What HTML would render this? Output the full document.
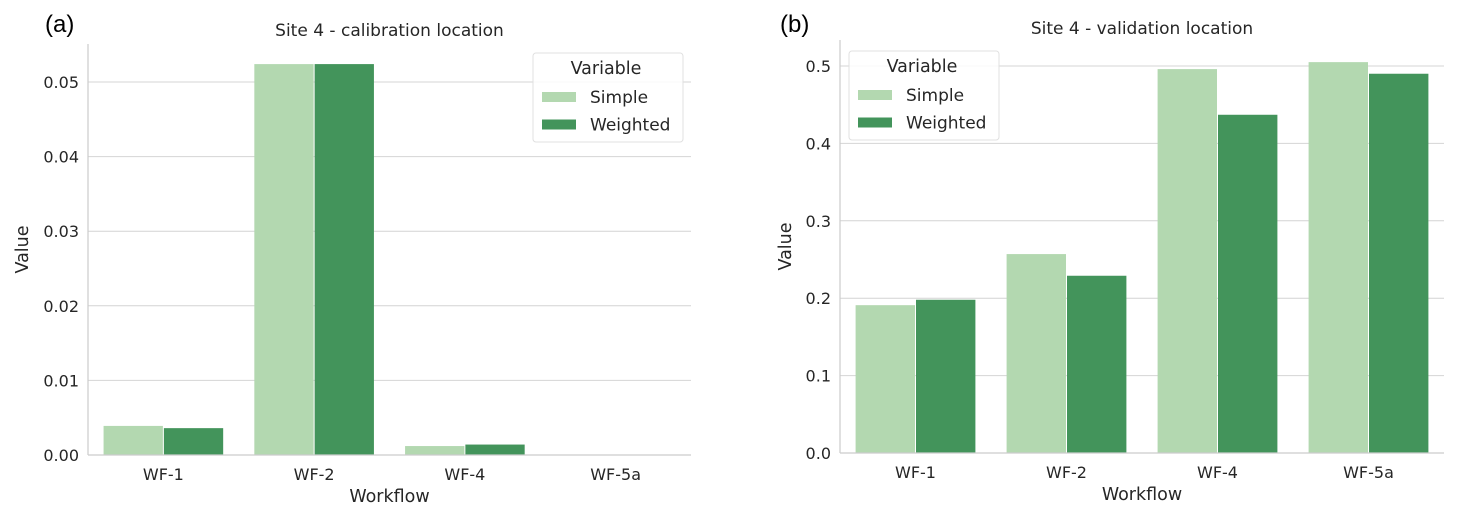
<!DOCTYPE html>
<html><head><meta charset="utf-8"><style>
body{margin:0;background:#fff;}
svg{display:block;font-family:"DejaVu Sans","Liberation Sans",sans-serif;fill:#262626;}
</style></head><body>
<svg id="fig" width="1458" height="518" viewBox="0 0 1458 518"></svg>
<script>
const categories=["WF-1","WF-2","WF-4","WF-5a"];
const seriesNames=["Simple","Weighted"];
const calSimple=[0.0039,0.0524,0.0012,0.0];
const calWeighted=[0.0036,0.0524,0.0014,0.0];
const valSimple=[0.191,0.257,0.496,0.505];
const valWeighted=[0.198,0.229,0.437,0.490];
const calTicks=[0,0.01,0.02,0.03,0.04,0.05];
const calTickLabels=["0.00","0.01","0.02","0.03","0.04","0.05"];
const valTicks=[0,0.1,0.2,0.3,0.4,0.5];
const valTickLabels=["0.0","0.1","0.2","0.3","0.4","0.5"];
const colors=["#b3d8b0","#43945b"];
const NS="http://www.w3.org/2000/svg";
const svg=document.getElementById('fig');
function mk(tag,attrs,parent,text){const e=document.createElementNS(NS,tag);for(const k in attrs)e.setAttribute(k,attrs[k]);if(text!==undefined)e.textContent=text;(parent||svg).appendChild(e);return e;}
function panel(cfg){
  const g=mk('g',{});
  
  
  const y=v=>cfg.y0-(v/cfg.vmax)*(cfg.y0-cfg.ytop);
  const bw=(cfg.x1-cfg.x0)/categories.length;
  const xc=i=>cfg.x0+bw*(i+0.5);
  cfg.ticks.forEach((t,i)=>{
    if(t>0){const gl=mk('line',{x1:cfg.x0,x2:cfg.x1,y1:y(t),y2:y(t),stroke:'#d4d4d4','stroke-width':1},g);
    }
    const tl=mk('text',{x:cfg.x0-9,y:y(t)+6,'text-anchor':'end','font-size':16},g,cfg.tickLabels[i]);
    
  });
  const series=[cfg.s1,cfg.s2];
  series.forEach((arr,s)=>{
    arr.forEach((v,i)=>{
      const w=bw*0.8/2;
      const x=xc(i)-bw*0.4+s*w;
      const r=mk('rect',{x:x+0.5,y:y(v),width:w-1,height:Math.max(0,cfg.y0-y(v)),fill:colors[s]},g);
      
      
    });
  });
  const ax=mk('line',{x1:cfg.x0,x2:cfg.x0,y1:cfg.ytopAxis,y2:cfg.y0,stroke:'#cccccc','stroke-width':1.2},g);
  
  const bx=mk('line',{x1:cfg.x0,x2:cfg.x1,y1:cfg.y0,y2:cfg.y0,stroke:'#cccccc','stroke-width':1.2},g);
  
  categories.forEach((c,i)=>{
    const t=mk('text',{x:xc(i),y:cfg.y0+25,'text-anchor':'middle','font-size':16},g,c);
    
  });
  const xt=mk('text',{x:(cfg.x0+cfg.x1)/2,y:cfg.y0+47,'text-anchor':'middle','font-size':17.5},g,'Workflow');
  
  const yt=mk('text',{x:0,y:0,'text-anchor':'middle','font-size':17.5,transform:`translate(${cfg.ylabX},${(cfg.y0+cfg.ytopAxis)/2}) rotate(-90)`},g,'Value');
  
  const tt=mk('text',{x:(cfg.x0+cfg.x1)/2,y:cfg.titleY,'text-anchor':'middle','font-size':17},g,cfg.title);
  
  const pl=mk('text',{x:cfg.panelX,y:32,'font-size':24,'font-family':'Liberation Sans, sans-serif',fill:'#000'},g,cfg.panelLabel);
  
  const lg=mk('g',{},g);
  
  const L=cfg.leg;
  mk('rect',{x:L.x,y:L.y,width:150,height:89,rx:3,fill:'#fff','fill-opacity':0.85,stroke:'#e0e0e0','stroke-width':1},lg);
  const lt=mk('text',{x:L.x+73,y:L.y+21,'text-anchor':'middle','font-size':17.5},lg,'Variable');
  
  seriesNames.forEach((n,s)=>{
    const e=mk('g',{},lg);
    
    
    mk('rect',{x:L.x+9,y:L.y+39+s*27.5,width:34,height:10,fill:colors[s]},e);
    mk('text',{x:L.x+57,y:L.y+50+s*27.5,'font-size':17},e,n);
  });
}
panel({name:'calibration-chart',x0:88,x1:691,y0:455,ytop:82,vmax:0.05,ytopAxis:44,ticks:calTicks,tickLabels:calTickLabels,s1:calSimple,s2:calWeighted,title:'Site 4 - calibration location',titleY:36,panelLabel:'(a)',panelX:45,ylabX:28,leg:{x:533,y:53}});
panel({name:'validation-chart',x0:840,x1:1444,y0:453,ytop:66,vmax:0.5,ytopAxis:40,ticks:valTicks,tickLabels:valTickLabels,s1:valSimple,s2:valWeighted,title:'Site 4 - validation location',titleY:34,panelLabel:'(b)',panelX:780,ylabX:791,leg:{x:849,y:51}});
</script>
</body></html>
